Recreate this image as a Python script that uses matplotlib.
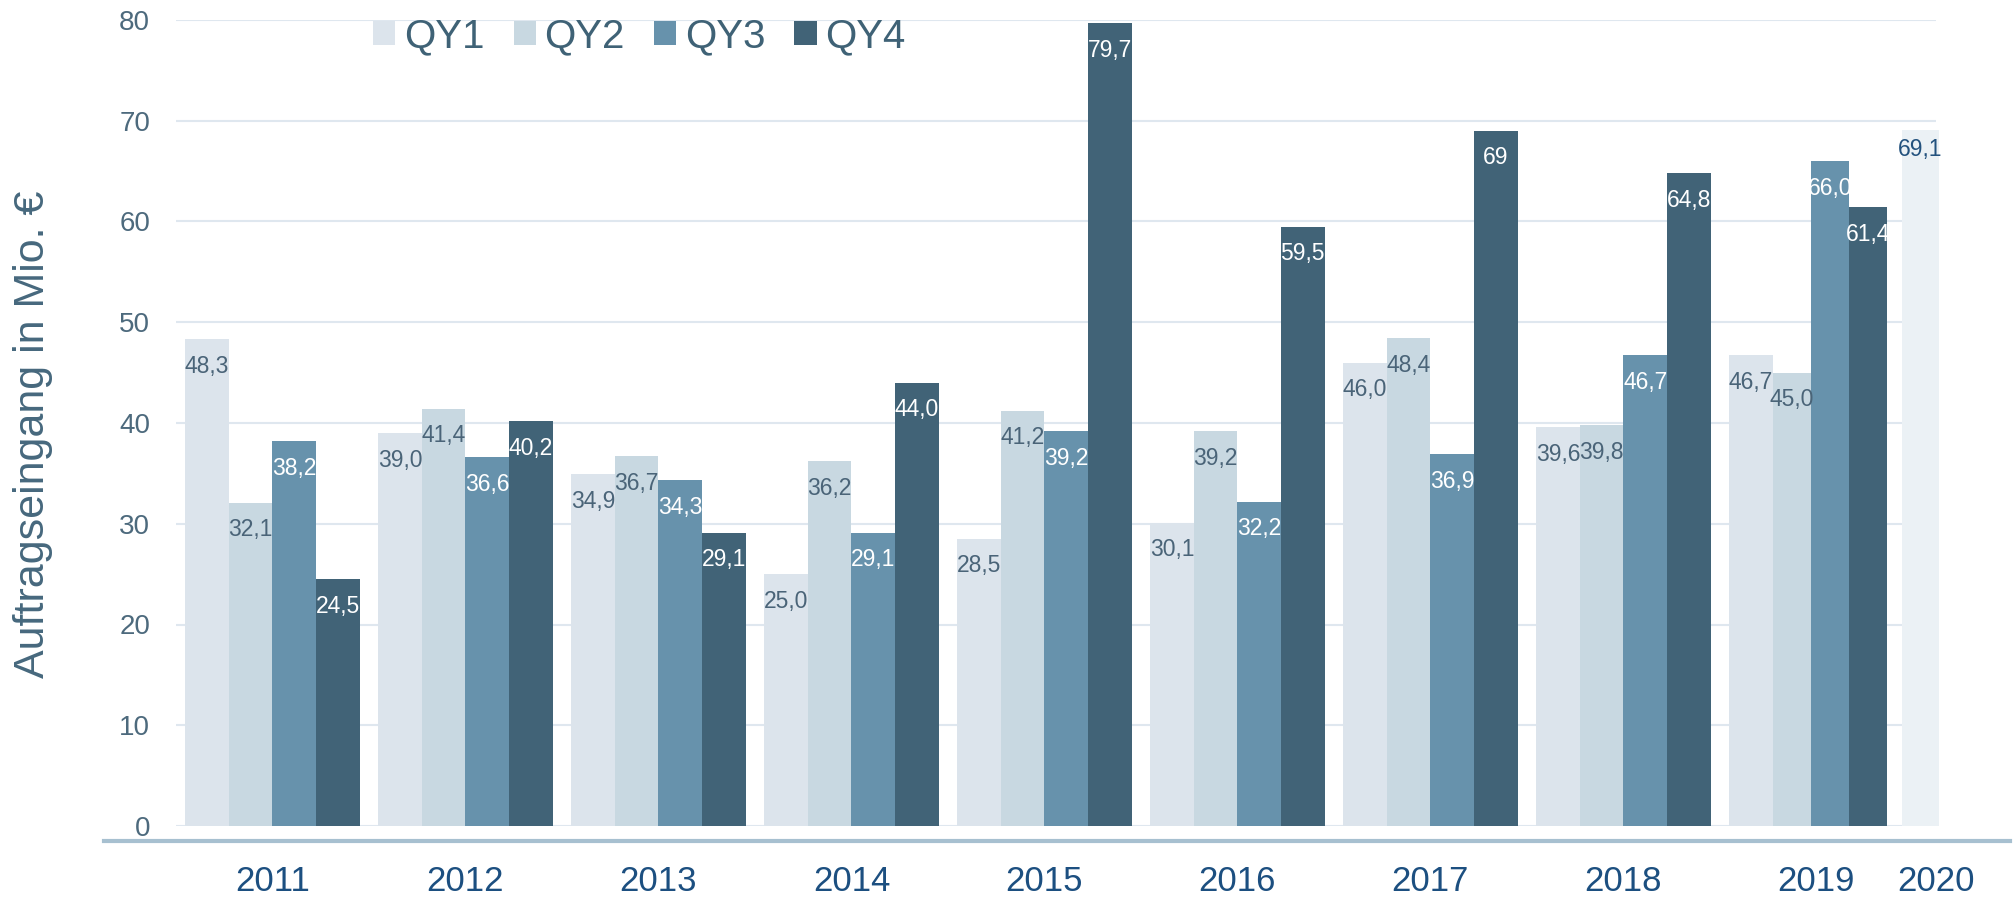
import matplotlib
matplotlib.use("Agg")
import matplotlib.pyplot as plt
from matplotlib import font_manager
from matplotlib.lines import Line2D
from matplotlib.patches import Patch

# data
years = ["2011", "2012", "2013", "2014", "2015", "2016", "2017", "2018", "2019"]
qy1 = [48.3, 39.0, 34.9, 25.0, 28.5, 30.1, 46.0, 39.6, 46.7]
qy2 = [32.1, 41.4, 36.7, 36.2, 41.2, 39.2, 48.4, 39.8, 45.0]
qy3 = [38.2, 36.6, 34.3, 29.1, 39.2, 32.2, 36.9, 46.7, 66.0]
qy4 = [24.5, 40.2, 29.1, 44.0, 79.7, 59.5, 69, 64.8, 61.4]
series_names = ["QY1", "QY2", "QY3", "QY4"]
year_2020 = "2020"
value_2020 = 69.1

colors = ["#dce4ec", "#c8d8e1", "#6792ac", "#416377"]
label_colors = ["#4a6478", "#4a6478", "white", "white"]
color_2020 = "#ebf1f5"

names = {f.name for f in font_manager.fontManager.ttflist}
NARROW = "Liberation Sans Narrow" if "Liberation Sans Narrow" in names else "Liberation Sans"
REG = "Liberation Sans"


def fmt(v):
    # integers were printed without decimals in the original
    if isinstance(v, int):
        return str(v)
    return f"{v:.1f}".replace(".", ",")


W, H = 2013, 898
fig = plt.figure(figsize=(W / 100, H / 100), dpi=100)
ax = fig.add_axes([176 / W, 1 - 826 / H, (1936 - 176) / W, (826 - 20) / H])
ax.set_xlim(-0.5, 8.48)
ax.set_ylim(0, 80)
for s in ax.spines.values():
    s.set_visible(False)

# light horizontal grid
for v in range(0, 81, 10):
    ax.axhline(v, color="#dfe7ef", lw=1.5, zorder=0)

w = 0.226      # normal bar width
w_last = 0.198 # the 2019 group was squeezed a bit in the original
all_series = [qy1, qy2, qy3, qy4]

for i in range(len(years)):
    left = i - 2 * w
    for j, ser in enumerate(all_series):
        bw = w if (i < len(years) - 1 or j == 0) else w_last
        x = left + bw / 2
        ax.bar(x, ser[i], width=bw, color=colors[j], zorder=2, linewidth=0)
        ax.annotate(fmt(ser[i]), (x, ser[i]), xytext=(0, -19.5), textcoords="offset points",
                    ha="center", va="center", fontsize=16.5, family=NARROW,
                    color=label_colors[j], zorder=3)
        left += bw

# 2020 bar sits just right of the last group
x2020 = len(years) - 1 + 0.54
ax.bar(x2020, value_2020, width=0.194, color=color_2020, zorder=2, linewidth=0, clip_on=False)
ax.annotate(fmt(value_2020), (x2020, value_2020), xytext=(0, -14), textcoords="offset points",
            ha="center", va="center", fontsize=16.5, family=REG, color="#23527e",
            annotation_clip=False)

ax.set_yticks(range(0, 81, 10))
ax.tick_params(axis="y", length=0, pad=18.7, labelsize=20, labelcolor="#4d6a7d")
for t in ax.get_yticklabels():
    t.set_family(REG)

ax.set_xticks(list(range(len(years))) + [x2020 + 0.08])
ax.set_xticklabels(years + [year_2020])
ax.tick_params(axis="x", length=0, pad=28, labelsize=25, labelcolor="#1c4f80")
for t in ax.get_xticklabels():
    t.set_family(NARROW)

# thick bottom axis line below the baseline
fig.add_artist(Line2D([104 / W, 2010 / W], [1 - 841 / H, 1 - 841 / H],
                      color="#a7c0d0", lw=3, transform=fig.transFigure))

fig.text(33 / W, 1 - 434 / H, "Auftragseingang in Mio. €", rotation=90,
         ha="center", va="center", fontsize=31, family=REG, color="#46687d")

handles = [Patch(facecolor=c, edgecolor="none") for c in colors]
leg = fig.legend(handles, series_names, ncol=4, frameon=False, loc="center left",
                 bbox_to_anchor=(373 / W, 1 - 36 / H), borderpad=0, borderaxespad=0,
                 handlelength=0.55, handleheight=0.55, handletextpad=0.22,
                 columnspacing=0.72, prop={"family": REG, "size": 29})
for t in leg.get_texts():
    t.set_color("#3f6276")

fig.savefig("out.png", dpi=100)
